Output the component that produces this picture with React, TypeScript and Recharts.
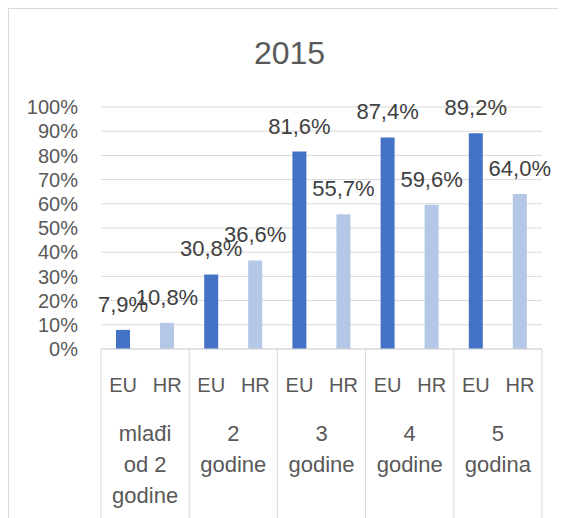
import React from "react";
import {
  BarChart,
  Bar,
  XAxis,
  YAxis,
  CartesianGrid,
  LabelList,
} from "recharts";

const groups = ["mlađi od 2 godine", "2 godine", "3 godine", "4 godine", "5 godina"];
const groupLines = [
  ["mlađi", "od 2", "godine"],
  ["2", "godine"],
  ["3", "godine"],
  ["4", "godine"],
  ["5", "godina"],
];
const euValues = [7.9, 30.8, 81.6, 87.4, 89.2];
const hrValues = [10.8, 36.6, 55.7, 59.6, 64.0];
const seriesNames = ["EU", "HR"];
const yTicks = [0, 10, 20, 30, 40, 50, 60, 70, 80, 90, 100];

const data = groups.map((g, i) => ({ group: g, eu: euValues[i], hr: hrValues[i] }));

const CHART_W = 557;
const CHART_H = 509;
const MARGIN = { top: 98, right: 24, left: 0, bottom: 0 };
const Y_W = 92;
const X_H = 169;
const BAND = (CHART_W - MARGIN.left - MARGIN.right - Y_W) / groups.length;

const GRID = "#d9d9d9";
const TEXT = "#595959";

const fmt = (v: number) => `${v.toFixed(1).replace(".", ",")}%`;

function GroupTick(props: any) {
  const { x, y, index } = props;
  const lines = groupLines[index] || [];
  const last = index === groups.length - 1;
  return (
    <g>
      <line x1={x - BAND / 2} x2={x - BAND / 2} y1={y} y2={y + X_H} stroke={GRID} />
      {last && <line x1={x + BAND / 2} x2={x + BAND / 2} y1={y} y2={y + X_H} stroke={GRID} />}
      <text x={x - BAND / 4} y={y + 43} textAnchor="middle" fill={TEXT} fontSize={20}>
        {seriesNames[0]}
      </text>
      <text x={x + BAND / 4} y={y + 43} textAnchor="middle" fill={TEXT} fontSize={20}>
        {seriesNames[1]}
      </text>
      {lines.map((l, i) => (
        <text key={i} x={x} y={y + 92 + i * 31} textAnchor="middle" fill={TEXT} fontSize={22}>
          {l}
        </text>
      ))}
    </g>
  );
}

export default function App() {
  return (
    <div
      style={{
        position: "relative",
        width: CHART_W,
        height: CHART_H,
        borderLeft: `1px solid ${GRID}`,
        borderTop: `1px solid ${GRID}`,
        fontFamily: "'Liberation Sans', Arial, sans-serif",
      }}
    >
      <div
        style={{
          position: "absolute",
          top: 26,
          left: 4,
          right: 0,
          textAlign: "center",
          fontSize: 32,
          color: TEXT,
        }}
      >
        2015
      </div>
      <BarChart
        width={CHART_W}
        height={CHART_H}
        data={data}
        margin={MARGIN}
        barSize={14}
        barGap={30}
      >
        <CartesianGrid vertical={false} stroke={GRID} />
        <XAxis
          dataKey="group"
          interval={0}
          height={X_H}
          tickLine={false}
          tickSize={0}
          tickMargin={0}
          axisLine={{ stroke: GRID }}
          tick={<GroupTick />}
        />
        <YAxis
          width={Y_W}
          domain={[0, 100]}
          ticks={yTicks}
          interval={0}
          axisLine={false}
          tickLine={false}
          tickSize={0}
          tickMargin={23}
          tick={{ fill: TEXT, fontSize: 20 }}
          tickFormatter={(v: number) => `${v}%`}
        />
        <Bar dataKey="eu" name="EU" fill="#4472C4" isAnimationActive={false}>
          <LabelList dataKey="eu" position="top" offset={18} formatter={fmt} fill="#404040" fontSize={22} />
        </Bar>
        <Bar dataKey="hr" name="HR" fill="#B4C7E7" isAnimationActive={false}>
          <LabelList dataKey="hr" position="top" offset={18} formatter={fmt} fill="#404040" fontSize={22} />
        </Bar>
      </BarChart>
    </div>
  );
}
